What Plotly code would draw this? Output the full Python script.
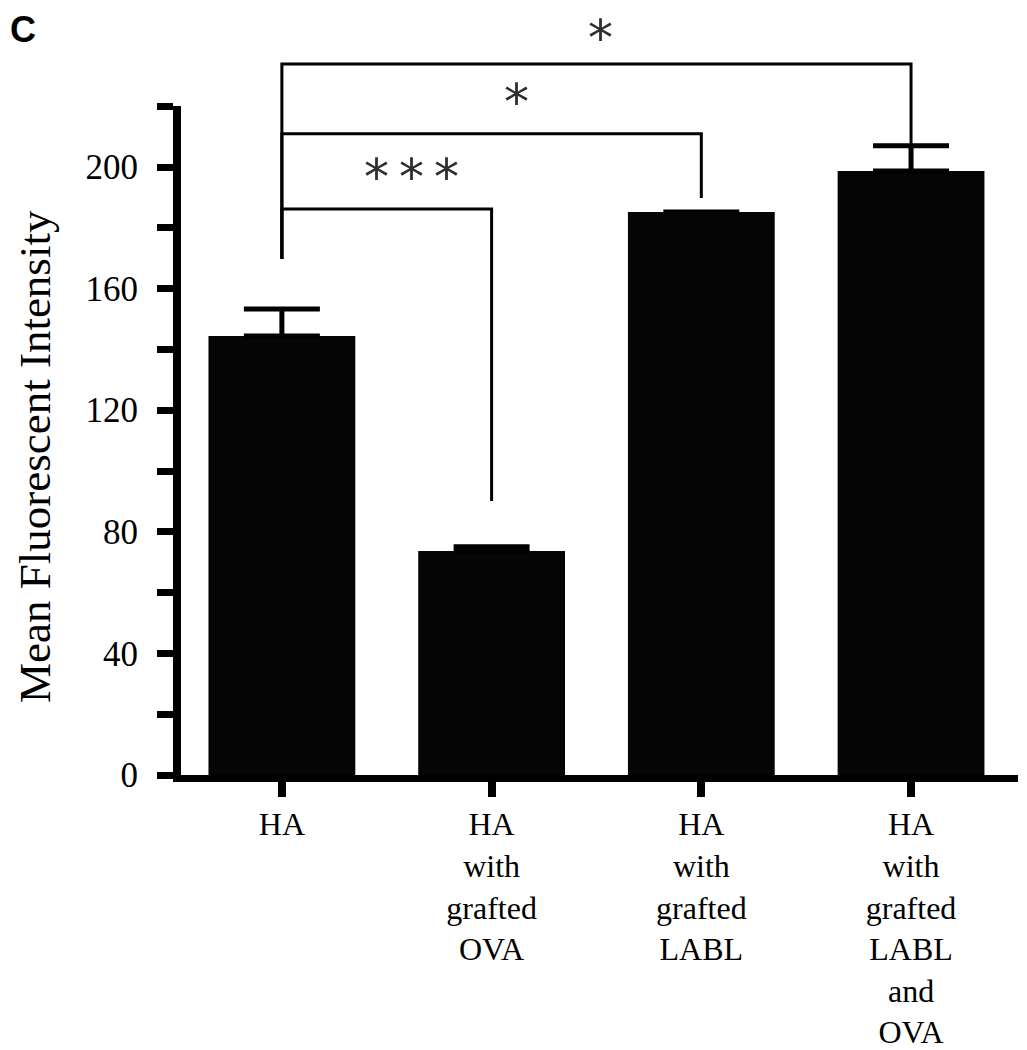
import plotly.graph_objects as go

# ---------------- data ----------------
categories = [
    "HA",
    "HA<br>with<br>grafted<br>OVA",
    "HA<br>with<br>grafted<br>LABL",
    "HA<br>with<br>grafted<br>LABL<br>and<br>OVA",
]
means = [144.4, 73.7, 185.2, 198.7]
errors_up = [8.9, 1.4, 0.0, 8.3]

y_tick_values = list(range(0, 221, 20))
y_tick_labels = [str(v) if v % 40 == 0 else "" for v in y_tick_values]

# significance comparisons
comp_a = [0, 0, 0]
comp_b = [1, 2, 3]
comp_level = [186.2, 210.9, 233.9]
comp_leg_a = [169.7, 169.7, 169.7]
comp_leg_b = [90.1, 189.8, 206.3]
comp_label = ["*\u2009*\u2009*", "*", "*"]
comp_label_x = [0.62, 1.12, 1.52]
comp_label_y = [196.6, 221.4, 242.6]

# ---------------- layout constants ----------------
W, H = 1027, 1042
OFF = 8  # page body margin in the browser
L, R, T, B = 173, 17, 0, 275
plot_h = H - T - B
plot_w = W - L - R
px_per_unit = 3.04
y_top = 220
d = y_top * px_per_unit / plot_h
x_positions = list(range(len(categories)))


def px(page_x):
    return (page_x - OFF - L) / plot_w


def py(page_y):
    return (plot_h - (page_y - OFF - T)) / plot_h


SERIF = "Liberation Serif, Times New Roman, serif"

fig = go.Figure()

fig.add_trace(go.Bar(
    x=x_positions, y=means, width=0.7,
    marker=dict(color="#050505", line=dict(width=0)),
    error_y=dict(type="data", symmetric=False, array=errors_up,
                 arrayminus=[0] * len(means), color="black",
                 thickness=5, width=38),
    xaxis="x", yaxis="y", showlegend=False, hoverinfo="skip",
))

for a, b, lev, la, lb in zip(comp_a, comp_b, comp_level, comp_leg_a, comp_leg_b):
    fig.add_trace(go.Scatter(
        x=[a, a, b, b], y=[la, lev, lev, lb], mode="lines",
        line=dict(color="black", width=3),
        xaxis="x", yaxis="y2", showlegend=False, hoverinfo="skip",
    ))

for lab, lx, ly in zip(comp_label, comp_label_x, comp_label_y):
    fig.add_annotation(
        x=lx, y=ly, xref="x", yref="y2", text=lab, showarrow=False,
        font=dict(family="DejaVu Sans", size=50, color="#2e2e2e"),
        xanchor="center", yanchor="middle", borderpad=0,
    )

fig.add_annotation(
    x=px(35), y=py(457),
    xref="paper", yref="paper", text="Mean Fluorescent Intensity",
    textangle=-90, showarrow=False,
    font=dict(family=SERIF, size=45, color="black"),
    xanchor="center", yanchor="middle",
)
fig.add_annotation(
    x=px(9), y=1.0,
    xref="paper", yref="paper", text="<b>C</b>", showarrow=False,
    font=dict(family="Liberation Sans, Arial, sans-serif", size=36, color="black"),
    xanchor="left", yanchor="top", borderpad=0,
)

fig.update_layout(
    width=W, height=H,
    margin=dict(l=L, r=R, t=T, b=B, autoexpand=False),
    paper_bgcolor="white", plot_bgcolor="rgba(0,0,0,0)",
    xaxis=dict(
        range=[-0.481, 3.51], tickvals=x_positions, ticktext=categories,
        showline=True, linecolor="black", linewidth=7,
        ticks="outside", ticklen=15, tickwidth=8, tickcolor="black",
        showgrid=False, zeroline=False, anchor="y", automargin=False,
        tickfont=dict(family=SERIF, size=32, color="black"),
    ),
    yaxis=dict(
        domain=[0, d], range=[0, y_top],
        tickvals=y_tick_values, ticktext=y_tick_labels,
        showline=True, linecolor="black", linewidth=8,
        ticks="outside", ticklen=16, tickwidth=7, tickcolor="black",
        showgrid=False, zeroline=False, anchor="x", automargin=False,
        ticklabelstandoff=12,
        tickfont=dict(family=SERIF, size=35, color="black"),
    ),
    yaxis2=dict(
        domain=[0, 1], range=[0, y_top / d], anchor="x", automargin=False,
        visible=False, showgrid=False, zeroline=False,
    ),
)

fig.write_html("out.html")
